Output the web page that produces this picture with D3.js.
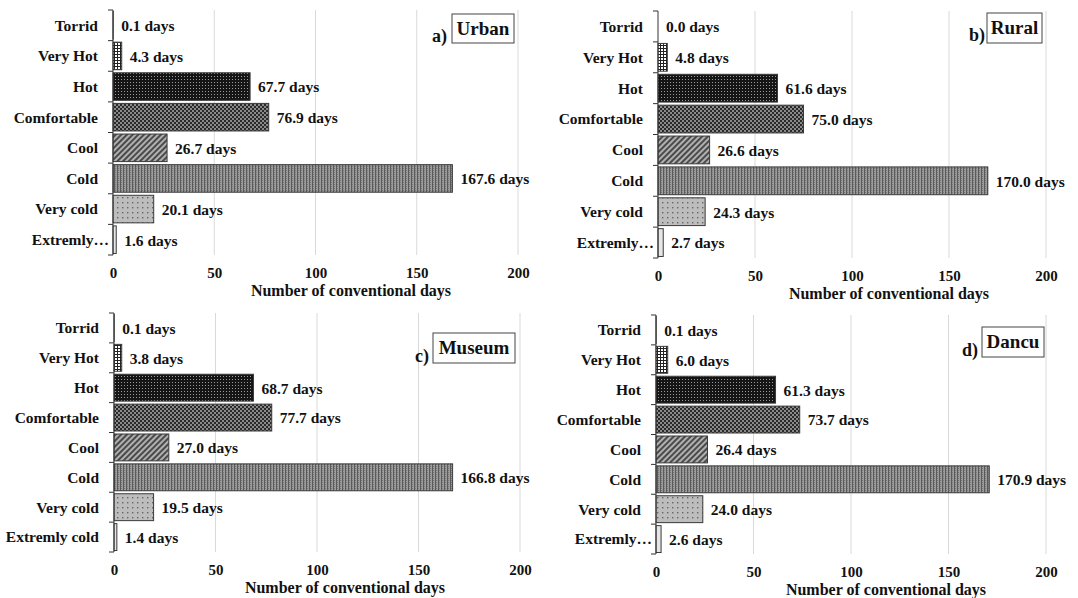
<!DOCTYPE html>
<html>
<head>
<meta charset="utf-8">
<script src="https://cdn.jsdelivr.net/npm/d3@7"></script>
<style>
  html, body { margin: 0; padding: 0; background: #fff; }
  svg { display: block; }
  text { font-family: "Liberation Serif", "Times New Roman", serif; font-weight: bold; fill: #111; }
</style>
</head>
<body>
<svg id="chart" width="1078" height="598"></svg>
<script>
// Thermal comfort classes and the number of days per class at each station
const categoryKeys = ["Torrid", "Very Hot", "Hot", "Comfortable", "Cool", "Cold", "Very cold", "Extremly cold"];
const labelsShort = ["Torrid", "Very Hot", "Hot", "Comfortable", "Cool", "Cold", "Very cold", "Extremly…"];
const labelsFull  = ["Torrid", "Very Hot", "Hot", "Comfortable", "Cool", "Cold", "Very cold", "Extremly cold"];

const urbanDays  = [0.1, 4.3, 67.7, 76.9, 26.7, 167.6, 20.1, 1.6];
const ruralDays  = [0.0, 4.8, 61.6, 75.0, 26.6, 170.0, 24.3, 2.7];
const museumDays = [0.1, 3.8, 68.7, 77.7, 27.0, 166.8, 19.5, 1.4];
const dancuDays  = [0.1, 6.0, 61.3, 73.7, 26.4, 170.9, 24.0, 2.6];

const xTicks = [0, 50, 100, 150, 200];
const xDomain = [0, 200];
const axisTitle = "Number of conventional days";

const panels = [
  { tag: "a)", name: "Urban",  values: urbanDays,  labels: labelsShort,
    x0: 113, x1: 518, y0: 10, y1: 255, titleX: 351,
    box: { x: 452, y: 14, w: 62, h: 29 }, tagX: 432, tagY: 42 },
  { tag: "b)", name: "Rural",  values: ruralDays,  labels: labelsShort,
    x0: 658, x1: 1046, y0: 11, y1: 258, titleX: 889,
    box: { x: 987, y: 13, w: 55, h: 30 }, tagX: 969, tagY: 41 },
  { tag: "c)", name: "Museum", values: museumDays, labels: labelsFull,
    x0: 114, x1: 520, y0: 313, y1: 552, titleX: 345,
    box: { x: 433, y: 333, w: 82, h: 30 }, tagX: 415, tagY: 362 },
  { tag: "d)", name: "Dancu",  values: dancuDays,  labels: labelsShort,
    x0: 656, x1: 1046, y0: 315, y1: 554, titleX: 886,
    box: { x: 982, y: 327, w: 62, h: 30 }, tagX: 962, tagY: 356 }
];

const svg = d3.select("#chart");
const defs = svg.append("defs");

// Fill patterns, one per comfort class
function makePattern(id, w, h, bg, draw) {
  const p = defs.append("pattern")
    .attr("id", id).attr("patternUnits", "userSpaceOnUse")
    .attr("width", w).attr("height", h);
  p.append("rect").attr("width", w).attr("height", h).attr("fill", bg);
  draw(p);
}
// Torrid: plain white
makePattern("pTorrid", 4, 4, "#fff", () => {});
// Very hot: small square grid
makePattern("pVeryHot", 3, 3, "#fff", p => {
  p.append("rect").attr("x", 0).attr("y", 0).attr("width", 3).attr("height", 1).attr("fill", "#222");
  p.append("rect").attr("x", 0).attr("y", 0).attr("width", 1).attr("height", 3).attr("fill", "#222");
});
// Hot: dark with small light dots
makePattern("pHot", 3, 3, "#151515", p => {
  p.append("rect").attr("x", 1).attr("y", 1).attr("width", 1).attr("height", 1).attr("fill", "#9a9a9a");
});
// Comfortable: dark checkerboard
makePattern("pComf", 4, 4, "#8a8a8a", p => {
  p.append("rect").attr("x", 0).attr("y", 0).attr("width", 2).attr("height", 2).attr("fill", "#2a2a2a");
  p.append("rect").attr("x", 2).attr("y", 2).attr("width", 2).attr("height", 2).attr("fill", "#2a2a2a");
});
// Cool: wide upward diagonal stripes
const cool = defs.append("pattern")
  .attr("id", "pCool").attr("patternUnits", "userSpaceOnUse")
  .attr("width", 4).attr("height", 4).attr("patternTransform", "rotate(45)");
cool.append("rect").attr("width", 4).attr("height", 4).attr("fill", "#b0b0b0");
cool.append("rect").attr("x", 0).attr("y", 0).attr("width", 2).attr("height", 4).attr("fill", "#4a4a4a");
// Cold: fine vertical lines on mid grey
makePattern("pCold", 3, 2, "#9c9c9c", p => {
  p.append("rect").attr("x", 0).attr("y", 0).attr("width", 1).attr("height", 2).attr("fill", "#5a5a5a");
  p.append("rect").attr("x", 1).attr("y", 0).attr("width", 1).attr("height", 1).attr("fill", "#777");
});
// Very cold: light grey with dots
makePattern("pVeryCold", 5, 5, "#bdbdbd", p => {
  p.append("rect").attr("x", 2).attr("y", 2).attr("width", 1.4).attr("height", 1.4).attr("fill", "#666");
});
// Extremely cold: very light grey
makePattern("pExtCold", 4, 4, "#e6e6e6", () => {});

const patternIds = ["pTorrid", "pVeryHot", "pHot", "pComf", "pCool", "pCold", "pVeryCold", "pExtCold"];

panels.forEach(pn => {
  const g = svg.append("g");
  const x = d3.scaleLinear().domain(xDomain).range([pn.x0, pn.x1]);
  const y = d3.scaleBand().domain(categoryKeys).range([pn.y0, pn.y1])
    .paddingInner(0.1).paddingOuter(0.05);
  const rows = categoryKeys.map((k, i) => ({ key: k, label: pn.labels[i], value: pn.values[i], pat: patternIds[i] }));

  // vertical gridlines
  g.append("g").selectAll("line")
    .data(xTicks.filter(t => t > 0))
    .join("line")
    .attr("x1", d => x(d)).attr("x2", d => x(d))
    .attr("y1", pn.y0).attr("y2", pn.y1)
    .attr("stroke", "#d9d9d9").attr("stroke-width", 1);

  // bars
  g.append("g").selectAll("rect")
    .data(rows)
    .join("rect")
    .attr("x", x(0))
    .attr("y", d => y(d.key))
    .attr("width", d => Math.max(0, x(d.value) - x(0)))
    .attr("height", y.bandwidth())
    .attr("fill", d => `url(#${d.pat})`)
    .attr("stroke", "#3a3a3a").attr("stroke-width", 1);

  // category axis with ticks between categories
  const bounds = d3.range(categoryKeys.length + 1).map(i => pn.y0 + i * (pn.y1 - pn.y0) / categoryKeys.length);
  g.append("line")
    .attr("x1", x(0)).attr("x2", x(0))
    .attr("y1", pn.y0).attr("y2", pn.y1)
    .attr("stroke", "#333").attr("stroke-width", 1);
  g.append("g").selectAll("line")
    .data(bounds)
    .join("line")
    .attr("x1", x(0) - 5).attr("x2", x(0))
    .attr("y1", d => d).attr("y2", d => d)
    .attr("stroke", "#333").attr("stroke-width", 1);

  // category labels
  g.append("g").selectAll("text")
    .data(rows)
    .join("text")
    .attr("x", d => d.label.endsWith("…") ? x(0) - 4 : x(0) - 15)
    .attr("y", d => y(d.key) + y.bandwidth() / 2)
    .attr("dy", "0.35em")
    .attr("text-anchor", "end")
    .attr("font-size", 15.5)
    .text(d => d.label);

  // value labels
  g.append("g").selectAll("text")
    .data(rows)
    .join("text")
    .attr("x", d => x(d.value) + 8)
    .attr("y", d => y(d.key) + y.bandwidth() / 2)
    .attr("dy", "0.38em")
    .attr("font-size", 15.5)
    .text(d => d.value.toFixed(1) + " days");

  // value axis
  const ax = g.append("g")
    .attr("transform", `translate(0,${pn.y1 + 12})`)
    .call(d3.axisBottom(x).tickValues(xTicks).tickSize(0).tickPadding(0).tickFormat(d3.format("d")));
  ax.select(".domain").remove();
  ax.selectAll("text")
    .attr("font-size", 15)
    .attr("font-family", "Liberation Serif, serif")
    .attr("font-weight", "bold")
    .attr("fill", "#111");

  g.append("text")
    .attr("x", pn.titleX)
    .attr("y", pn.y1 + 41)
    .attr("text-anchor", "middle")
    .attr("font-size", 16)
    .text(axisTitle);

  // panel tag and boxed site name
  g.append("text")
    .attr("x", pn.tagX).attr("y", pn.tagY)
    .attr("font-size", 18)
    .text(pn.tag);
  g.append("rect")
    .attr("x", pn.box.x).attr("y", pn.box.y)
    .attr("width", pn.box.w).attr("height", pn.box.h)
    .attr("fill", "#fff").attr("stroke", "#444").attr("stroke-width", 1);
  g.append("text")
    .attr("x", pn.box.x + pn.box.w / 2)
    .attr("y", pn.box.y + pn.box.h / 2)
    .attr("dy", "0.34em")
    .attr("text-anchor", "middle")
    .attr("font-size", 19)
    .text(pn.name);
});
</script>
</body>
</html>
